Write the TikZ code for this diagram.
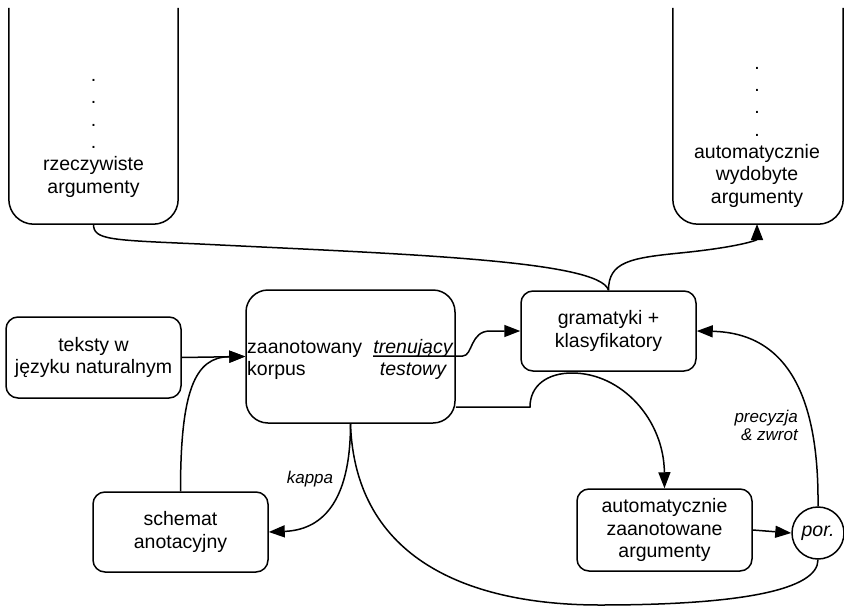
\documentclass[tikz,border=0pt]{standalone}
\usepackage{fontspec}
\setmainfont{Liberation Sans}
\usetikzlibrary{arrows.meta}
\begin{document}
\begin{tikzpicture}[x=1pt,y=-1pt,
  every node/.style={font=\fontsize{19.5}{22.3}\selectfont, inner sep=0pt},
  box/.style={draw, line width=1.5pt, rounded corners=12pt, align=center},
  hidden/.style={draw=none},
  line/.style={line width=1.5pt},
  conn/.style={line width=1.5pt, -{Triangle[length=16pt,width=12pt]}},
  lbl/.style={font=\fontsize{17}{18.5}\selectfont\itshape}
]
\useasboundingbox (0,0) rectangle (844,608);
% tall open boxes
\node[hidden, minimum width=169pt, minimum height=216pt] (rzbox) at (93.5,116) {};
\node[hidden, minimum width=170pt, minimum height=216pt] (wybox) at (758,116) {};
\draw[line, rounded corners=25pt] (rzbox.north west) -- (rzbox.south west) -- (rzbox.south east) -- (rzbox.north east);
\draw[line, rounded corners=25pt] (wybox.north west) -- (wybox.south west) -- (wybox.south east) -- (wybox.north east);
\node[anchor=base] (rz) at (93.5,193) {\begin{tabular}[b]{@{}c@{}}.\\.\\.\\.\\rzeczywiste\\argumenty\end{tabular}};
\node[anchor=base] (wy) at (757,203) {\begin{tabular}[b]{@{}c@{}}.\\.\\.\\.\\automatycznie\\wydobyte\\argumenty\end{tabular}};
% boxes
\node[box, minimum width=175pt, minimum height=81pt] (teksty) at (93.5,357.5) {teksty w\\języku naturalnym};
\node[box, rounded corners=22pt, minimum width=209pt, minimum height=133pt] (korpus) at (350.5,356.5) {};
\node[anchor=base west] (kL) at (247,353) {\begin{tabular}[t]{@{}l@{}}zaanotowany\\korpus\end{tabular}};
\node[anchor=base] (kR) at (413,353) {\itshape\begin{tabular}[t]{@{}c@{}}trenujący\\testowy\end{tabular}};
\node[box, minimum width=175pt, minimum height=80pt] (gram) at (608.5,331) {gramatyki +\\klasyfikatory};
\node[box, minimum width=175pt, minimum height=82pt] (auto) at (664.5,530) {automatycznie\\zaanotowane\\argumenty};
\node[box, minimum width=175pt, minimum height=80pt] (schemat) at (180.5,532) {schemat\\anotacyjny};
\node[draw, line width=1.5pt, circle, minimum size=52pt] (por) at (818,533) {\itshape por.};
% labels
\node[lbl, anchor=base] (kappa) at (310,483) {kappa};
\node[lbl, anchor=base east] (prec) at (798,422) {\begin{tabular}[t]{@{}r@{}}precyzja\\\& zwrot\end{tabular}};
% connectors
\draw[line] (rzbox.south) .. controls (93.5,240) and (110,240) .. (200,244)
  .. controls (400,254) and (600,260) .. (gram.north);
\draw[conn] (gram.north) .. controls (608.5,262) and (630,258) .. (680,253)
  .. controls (740,247) and (757,240) .. (757,224);
\coordinate (ul) at ([yshift=-3pt]kR.base west);
\draw[conn] (ul) -- (ul -| korpus.east) -- ++(7,0) .. controls ++(10,0) and (470,331) .. (490,331) -- (gram.west);
\draw[conn] (korpus.east |- 0,407) -- (530,407) .. controls (530,385) and (548,373) .. (572,373)
  .. controls (622,373) and (664,420) .. (auto.north);
\draw[conn] (auto.east) -- (por.west);
\draw[conn] (por.north) .. controls (819,410) and (795,333) .. (gram.east);
\draw[conn] (korpus.south) .. controls (350.5,505) and (320,530) .. (schemat.east);
\draw[line] (korpus.south) .. controls (355,560) and (470,605) .. (600,605)
  .. controls (740,605) and (818,590) .. (por.south);
\draw[conn] (teksty.east) -- (korpus.west);
\draw[conn] (schemat.north) .. controls (180.5,390) and (195,357) .. (korpus.west);
\end{tikzpicture}
\end{document}
